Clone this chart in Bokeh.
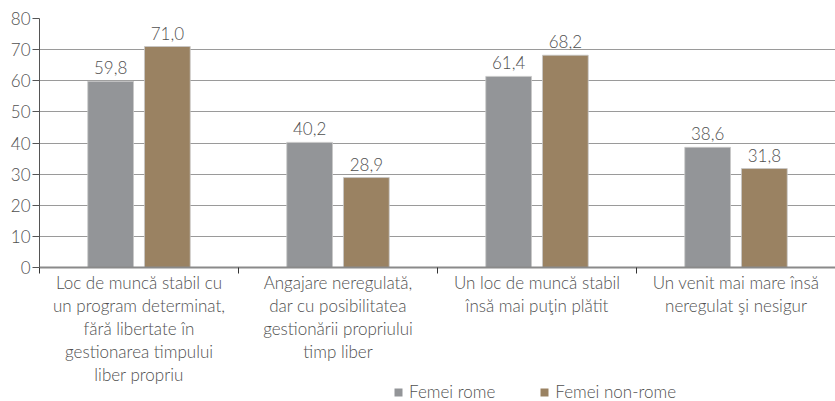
from bokeh.plotting import figure
from bokeh.layouts import column
from bokeh.models import FixedTicker, Range1d, Legend, LegendItem, ColumnDataSource, LinearAxis
from bokeh.core.properties import value
from bokeh.embed import file_html
from bokeh.resources import INLINE

categories = [
    "Loc de muncă stabil cu\nun program determinat,\nfără libertate în\ngestionarea timpului\nliber propriu",
    "Angajare neregulată,\ndar cu posibilitatea\ngestionării propriului\ntimp liber",
    "Un loc de muncă stabil\nînsă mai puţin plătit",
    "Un venit mai mare însă\nneregulat şi nesigur",
]
series_names = ["Femei rome", "Femei non-rome"]
rome = [59.8, 40.2, 61.4, 38.6]
non_rome = [71.0, 28.9, 68.2, 31.8]
y_ticks = [0, 10, 20, 30, 40, 50, 60, 70, 80]

colors = ["#939598", "#9a8262"]
FONT = "'Lato Light', Lato"
FS = "17px"
TXT = "#505050"

p = figure(width=835, height=401, output_backend="svg", toolbar_location=None,
           x_range=Range1d(0, len(categories)), y_range=Range1d(0, 80),
           x_axis_location=None,
           min_border_left=39, min_border_right=0, min_border_top=18, min_border_bottom=134)
p.outline_line_color = None
p.background_fill_color = "white"

centers = [i + 0.5 for i in range(len(categories))]
offset = 0.1425
bw = 0.23
series = [rome, non_rome]
for k, (vals, col) in enumerate(zip(series, colors)):
    xs = [c + (-offset if k == 0 else offset) for c in centers]
    src = ColumnDataSource(dict(x=xs, top=vals,
                                lab=[f"{v:.1f}".replace(".", ",") for v in vals]))
    p.vbar(x="x", top="top", width=bw, bottom=0, source=src,
           fill_color=col, line_color="#c8c8c8", line_width=0.8)
    p.text(x="x", y="top", text="lab", source=src, text_align="center",
           text_baseline="bottom", y_offset=-7, text_font=value(FONT),
           text_font_size=FS, text_color=TXT)

# y axis
p.yaxis.ticker = FixedTicker(ticks=y_ticks)
p.yaxis.major_tick_in = 0
p.yaxis.major_tick_out = 7
p.yaxis.minor_tick_line_color = None
p.yaxis.axis_line_color = "#555555"
p.yaxis.major_tick_line_color = "#555555"
p.yaxis.major_label_text_font = FONT
p.yaxis.major_label_text_font_size = FS
p.yaxis.major_label_text_color = TXT
p.yaxis.major_label_standoff = 2

# x axis: one stacked axis per label line so every line is centred
split = [c.split("\n") for c in categories]
n_lines = max(len(s) for s in split)
for j in range(n_lines):
    ax = LinearAxis(ticker=FixedTicker(ticks=centers,
                                       minor_ticks=list(range(len(categories) + 1)) if j == 0 else []),
                    major_label_overrides={c: (s[j] if j < len(s) else "") for c, s in zip(centers, split)},
                    major_tick_in=0, major_tick_out=0, minor_tick_in=0,
                    minor_tick_out=6 if j == 0 else 0,
                    minor_tick_line_color="#333333" if j == 0 else None,
                    major_tick_line_color=None,
                    axis_line_color="#8a8a8a" if j == 0 else None, axis_line_width=2,
                    major_label_text_font=FONT, major_label_text_font_size=FS,
                    major_label_text_color=TXT,
                    major_label_standoff=-2 if j == 0 else -1)
    p.add_layout(ax, "below")

p.xgrid.grid_line_color = None
p.ygrid.ticker = FixedTicker(ticks=y_ticks)
p.ygrid.grid_line_color = "#9a9a9a"
p.ygrid.grid_line_width = 1

# legend strip, overlaid on the bottom of the chart
LEG_H = 26
lf = figure(width=835, height=LEG_H, output_backend="svg", toolbar_location=None,
            x_axis_location=None, y_axis_location=None,
            x_range=Range1d(0, len(categories)), y_range=Range1d(0, 80),
            min_border_left=0, min_border_right=0, min_border_top=0, min_border_bottom=0,
            margin=(-LEG_H, 0, 0, 0))
lf.outline_line_color = None
lf.grid.visible = False
lf.border_fill_alpha = 0
lf.background_fill_alpha = 0
dummies = [lf.vbar(x=centers, top=vals, width=0, fill_color=c, line_color=None)
           for vals, c in zip(series, colors)]
legend = Legend(items=[LegendItem(label=n, renderers=[r]) for n, r in zip(series_names, dummies)],
                orientation="horizontal", location=(354, -1), padding=0, margin=0,
                spacing=44, glyph_width=10, glyph_height=10, label_height=12,
                label_standoff=6, label_text_font=FONT, label_text_font_size=FS,
                label_text_color=TXT, border_line_color=None, background_fill_alpha=0)
lf.add_layout(legend)

open("out.html", "w").write(file_html(column(p, lf, spacing=0), INLINE))
